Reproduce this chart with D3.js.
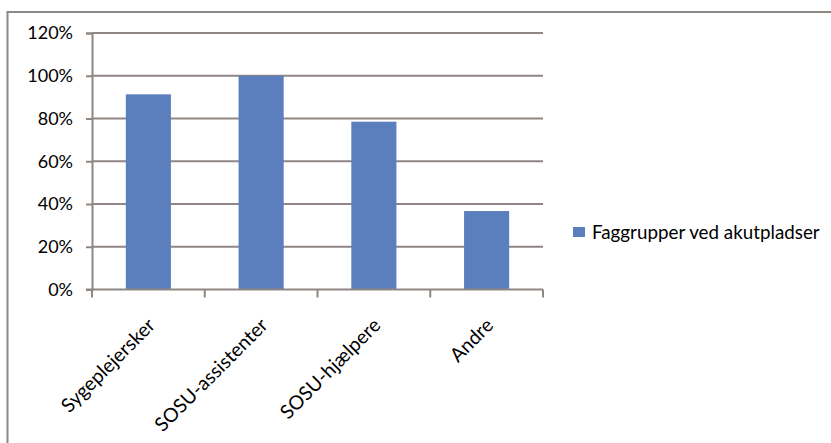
<!DOCTYPE html>
<html>
<head>
<meta charset="utf-8">
<script src="https://cdn.jsdelivr.net/npm/d3@7"></script>
<style>
  html, body { margin: 0; padding: 0; background: #ffffff; }
  svg { display: block; }
  text { font-family: Lato, "Open Sans", sans-serif; fill: #000; }
</style>
</head>
<body>
<svg id="chart" width="831" height="443"></svg>
<script>
// Share of each staff group at acute places
const categories = ["Sygeplejersker", "SOSU-assistenter", "SOSU-hjælpere", "Andre"];
const values = [0.913, 1.0, 0.785, 0.367];
const yTicks = [0, 0.2, 0.4, 0.6, 0.8, 1.0, 1.2];
const seriesName = "Faggrupper ved akutpladser";

const plot = { left: 92, right: 543, top: 33, bottom: 289.5 };
const barColor = "#5b7ebd";
const gridColor = "#8e8783";

const svg = d3.select("#chart");

// Outer chart frame (runs off the right and bottom edges)
svg.append("rect")
  .attr("x", 7.5).attr("y", 12)
  .attr("width", 840).attr("height", 460)
  .attr("fill", "#fff")
  .attr("stroke", "#8c8884")
  .attr("stroke-width", 2);

const x = d3.scaleBand()
  .domain(categories)
  .range([plot.left, plot.right])
  .paddingInner(0.6)
  .paddingOuter(0.3);

const y = d3.scaleLinear()
  .domain([0, 1.2])
  .range([plot.bottom, plot.top]);

// Horizontal gridlines
svg.append("g")
  .selectAll("line")
  .data(yTicks.filter(t => t > 0))
  .join("line")
  .attr("x1", plot.left).attr("x2", plot.right)
  .attr("y1", d => y(d)).attr("y2", d => y(d))
  .attr("stroke", gridColor)
  .attr("stroke-width", 2);

// Bars
svg.append("g")
  .selectAll("rect")
  .data(values)
  .join("rect")
  .attr("x", (d, i) => x(categories[i]))
  .attr("width", x.bandwidth())
  .attr("y", d => y(d))
  .attr("height", d => y(0) - y(d))
  .attr("fill", barColor);

// Y axis
const yAxis = d3.axisLeft(y)
  .tickValues(yTicks)
  .tickFormat(d3.format(".0%"))
  .tickSize(6)
  .tickPadding(13);

const gy = svg.append("g")
  .attr("transform", `translate(${plot.left},0)`)
  .call(yAxis);
gy.select(".domain").attr("stroke", gridColor).attr("stroke-width", 2);
gy.selectAll(".tick line").attr("stroke", gridColor).attr("stroke-width", 2);
gy.selectAll(".tick text").attr("font-size", 18).attr("font-family", "Lato").attr("fill", "#000");

// X axis: category boundary ticks
const step = (plot.right - plot.left) / categories.length;
const bounds = d3.range(categories.length + 1).map(i => plot.left + i * step);

const gx = svg.append("g");
gx.append("line")
  .attr("x1", plot.left - 6).attr("x2", plot.right)
  .attr("y1", plot.bottom).attr("y2", plot.bottom)
  .attr("stroke", gridColor).attr("stroke-width", 2);
gx.selectAll("line.tick")
  .data(bounds)
  .join("line")
  .attr("class", "tick")
  .attr("x1", d => d).attr("x2", d => d)
  .attr("y1", plot.bottom).attr("y2", plot.bottom + 8)
  .attr("stroke", gridColor).attr("stroke-width", 2);

// Rotated category labels
gx.selectAll("text")
  .data(categories)
  .join("text")
  .attr("text-anchor", "end")
  .attr("font-size", 19.5)
  .attr("transform", d => `translate(${x(d) + x.bandwidth() / 2 + 8},${plot.bottom + 37}) rotate(-45)`)
  .text(d => d);

// Legend
const lg = svg.append("g").attr("transform", "translate(573,227)");
lg.append("rect").attr("width", 12).attr("height", 10).attr("fill", barColor);
lg.append("text")
  .attr("x", 19).attr("y", 11.5)
  .attr("font-size", 18.8)
  .text(seriesName);
</script>
</body>
</html>
